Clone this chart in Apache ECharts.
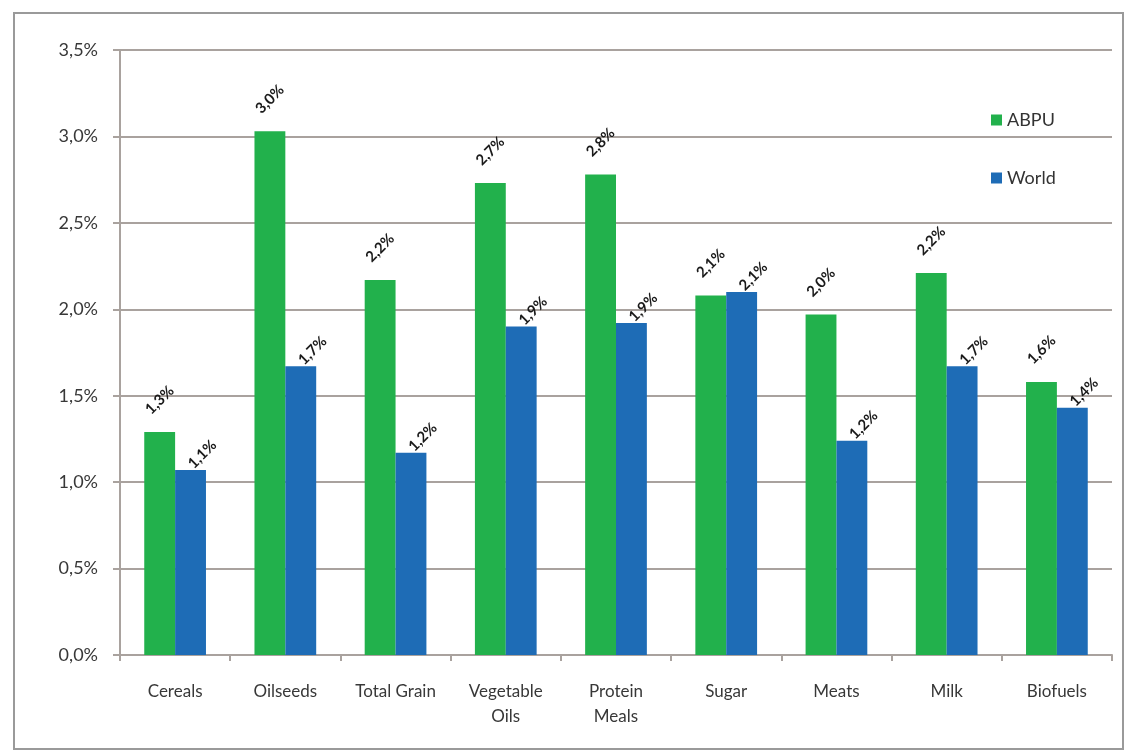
<!DOCTYPE html>
<html>
<head>
<meta charset="utf-8">
<script src="https://cdn.jsdelivr.net/npm/echarts@6/dist/echarts.min.js"></script>
<style>
html,body{margin:0;padding:0;background:#fff;}
#chart{width:1128px;height:751px;}
</style>
</head>
<body>
<div id="chart"></div>
<script>
const categories = ['Cereals','Oilseeds','Total Grain','Vegetable\nOils','Protein\nMeals','Sugar','Meats','Milk','Biofuels'];
const abpu  = [1.29, 3.03, 2.17, 2.73, 2.78, 2.08, 1.97, 2.21, 1.58];
const world = [1.07, 1.67, 1.17, 1.90, 1.92, 2.10, 1.24, 1.67, 1.43];
const yTicks = [0, 0.5, 1.0, 1.5, 2.0, 2.5, 3.0, 3.5];

const fmt = v => v.toFixed(1).replace('.', ',') + '%';
const fontFam = 'Lato, "Open Sans", sans-serif';
const gridColor = '#a9a29e';

const chart = echarts.init(document.getElementById('chart'), null, {renderer:'canvas'});
chart.setOption({
  backgroundColor:'#fff',
  animation:false,
  graphic:[{
    type:'rect',
    shape:{x:14,y:13,width:1109,height:736},
    style:{fill:'none',stroke:'#9a9a9a',lineWidth:2},
    silent:true
  }],
  legend:{
    orient:'vertical',
    left:986, top:106,
    itemWidth:11, itemHeight:11,
    itemGap:40,
    icon:'rect',
    textStyle:{fontFamily:fontFam,fontSize:18,color:'#333'},
    data:['ABPU','World']
  },
  grid:{left:120,right:16,top:50,bottom:96},
  xAxis:{
    type:'category',
    data:categories,
    axisLine:{lineStyle:{color:gridColor,width:2}},
    axisTick:{show:true,length:6,lineStyle:{color:gridColor,width:2}},
    axisLabel:{
      fontFamily:fontFam,fontSize:17,color:'#383838',
      margin:24,lineHeight:25,interval:0
    }
  },
  yAxis:{
    type:'value',
    min:0,max:3.5,interval:0.5,
    axisLine:{show:true,lineStyle:{color:gridColor,width:2}},
    axisTick:{show:true,length:7,lineStyle:{color:gridColor,width:2}},
    splitLine:{lineStyle:{color:gridColor,width:2}},
    axisLabel:{
      fontFamily:fontFam,fontSize:18,color:'#383838',margin:22,
      formatter:v => v.toFixed(1).replace('.', ',') + '%'
    }
  },
  series:[
    {
      name:'ABPU',type:'bar',data:abpu,
      itemStyle:{color:'#22b14c'},
      barGap:'0%',barCategoryGap:'44%',
      label:{
        show:true,position:'top',distance:32,rotate:45,
        align:'center',verticalAlign:'middle',
        fontFamily:fontFam,fontSize:15,fontWeight:'bold',color:'#1a1a1a',
        formatter:p => fmt(p.value)
      }
    },
    {
      name:'World',type:'bar',data:world,
      itemStyle:{color:'#1e6cb6'},
      barGap:'0%',barCategoryGap:'44%',
      label:{
        show:true,position:'top',distance:4,rotate:45,
        align:'left',verticalAlign:'middle',
        fontFamily:fontFam,fontSize:15,fontWeight:'bold',color:'#1a1a1a',
        formatter:p => fmt(p.value)
      }
    }
  ]
});
</script>
</body>
</html>
